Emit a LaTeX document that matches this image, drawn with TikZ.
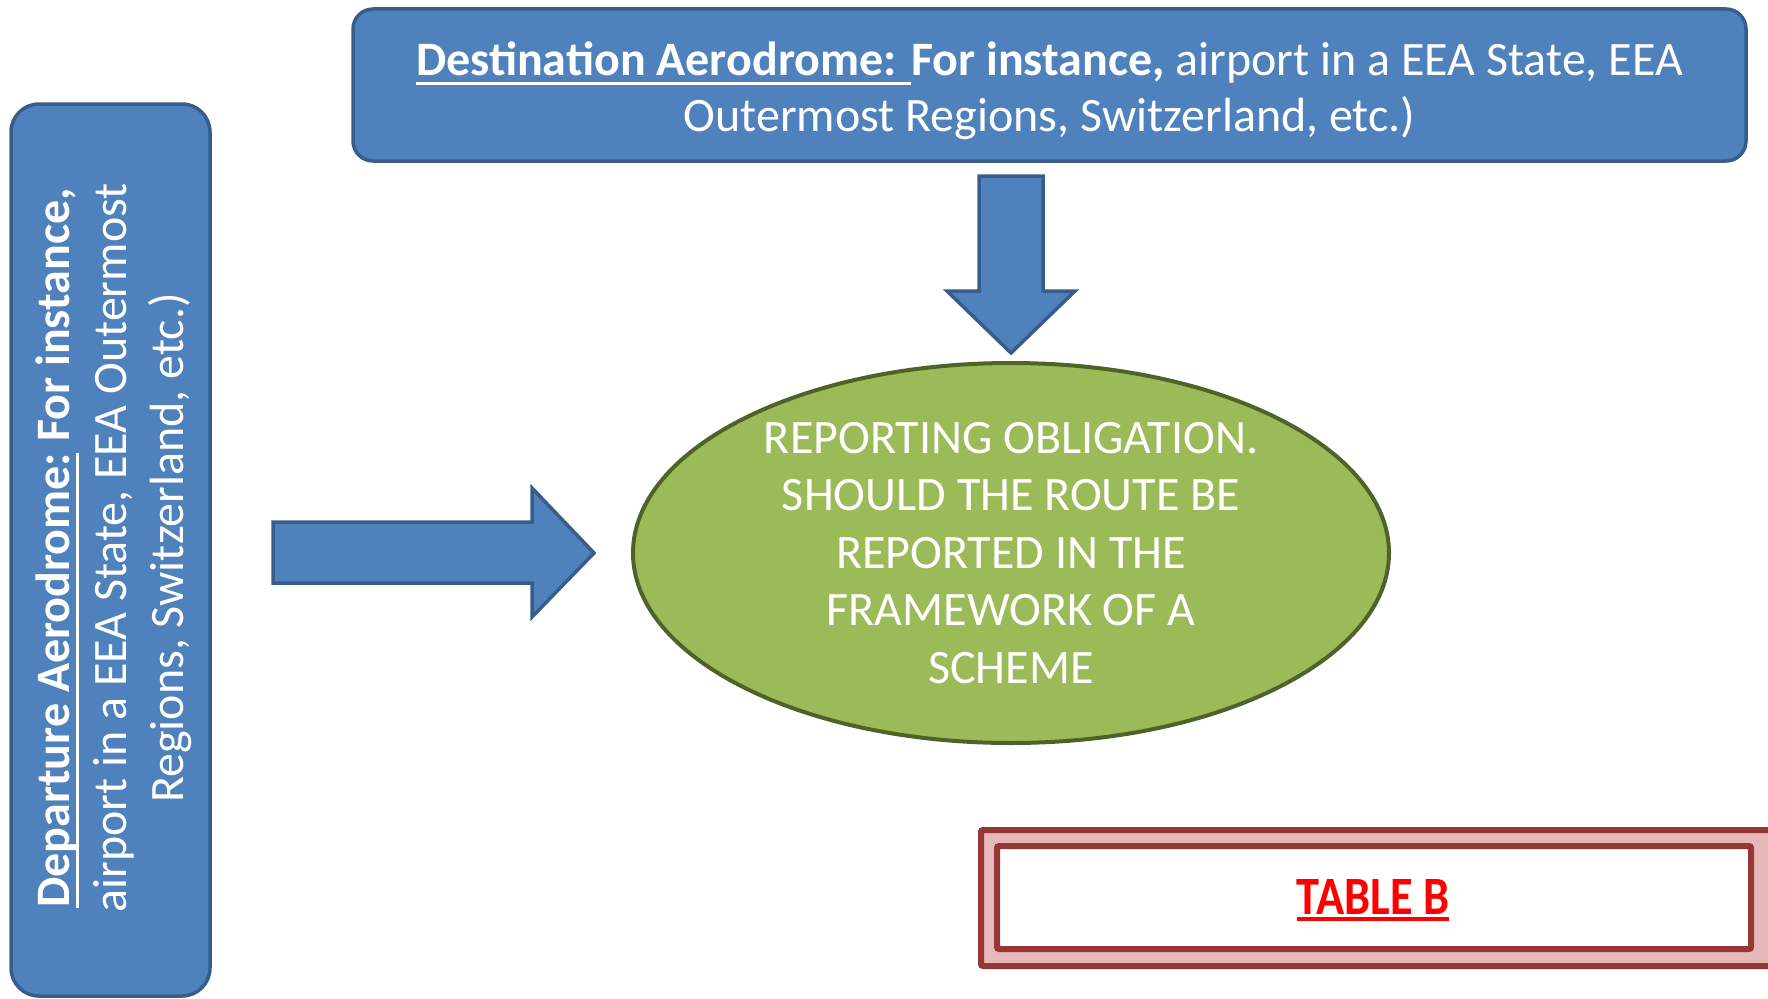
\documentclass[tikz,border=0pt]{standalone}
\usepackage{fontspec}
\setmainfont{Carlito}
\usetikzlibrary{shapes.geometric}
\definecolor{bluefill}{HTML}{4F81BD}
\definecolor{blueborder}{HTML}{385D8A}
\definecolor{greenfill}{HTML}{9BBB59}
\definecolor{greenborder}{HTML}{4F6228}
\definecolor{redborder}{HTML}{953735}
\definecolor{pinkfill}{HTML}{E6B9B8}
\newsavebox{\myulbox}
\newcommand{\myul}[3][9pt]{\sbox{\myulbox}{#3}\rlap{\usebox{\myulbox}}\rule[-#1]{\wd\myulbox}{#2}}
\tikzset{
  bluebox/.style={draw=blueborder, fill=bluefill, line width=3.5pt, rounded corners=20pt,
    text=white, align=center, font=\fontsize{48}{56}\selectfont, inner sep=0pt},
  blockarrow/.style={draw=blueborder, fill=bluefill, line width=3.5pt, line join=miter},
  greenell/.style={ellipse, draw=greenborder, fill=greenfill, line width=4pt,
    text=white, align=center, font=\fontsize{48}{57.5}\selectfont, inner sep=0pt},
  tableouter/.style={draw=redborder, fill=pinkfill, line width=6pt, rounded corners=2pt, inner sep=0pt},
  tableinner/.style={draw=redborder, fill=white, line width=6pt, rounded corners=2pt, inner sep=0pt},
  tabletext/.style={text=red, font=\fontsize{54}{60}\selectfont\bfseries, inner sep=0pt}
}
\begin{document}
\begin{tikzpicture}[x=1pt,y=-1pt]
\useasboundingbox (0,0) rectangle (1768,998);
% top destination box
\node[bluebox, minimum width=1393pt, minimum height=152pt] (dest) at (1049.5,85) {};
\node[text=white, align=center, font=\fontsize{48}{56}\selectfont, inner sep=0pt] (desttext) at (1049.5,91)
  {\myul{2.5pt}{\textbf{Destination Aerodrome: }}\textbf{For instance,} airport in a EEA State, EEA\\
   Outermost Regions, Switzerland, etc.)};
% left departure box
\node[bluebox, rounded corners=28pt, minimum width=199pt, minimum height=892pt] (depbox) at (110.5,550) {};
\node[text=white, align=center, font=\fontsize{48}{57}\selectfont, rotate=90, inner sep=0pt] (dep) at (114,548)
  {\myul{2.5pt}{\textbf{Departure Aerodrome:}} \textbf{For instance,}\\
   airport in a EEA State, EEA Outermost\\
   Regions, Switzerland, etc.)};
% ellipse
\node[greenell, minimum width=756pt, minimum height=380pt] (rep) at (1011,553)
  {REPORTING OBLIGATION.\\SHOULD THE ROUTE BE\\REPORTED IN THE\\FRAMEWORK OF A\\SCHEME};
% block arrows
\draw[blockarrow] (273,522) -- (532,522) -- (532,488) -- (594,553) -- (532,617) -- (532,583) -- (273,583) -- cycle;
\draw[blockarrow] (979,176) -- (1043,176) -- (1043,291) -- (1075,291) -- (1011,353) -- (947,291) -- (979,291) -- cycle;
% table B
\node[tableouter, minimum width=791pt, minimum height=136pt] (tabout) at (1376.5,898) {};
\node[tableinner, minimum width=754pt, minimum height=103pt] (tabin) at (1374,897.5) {};
\node[tabletext] (tabB) at (1373,900) {\scalebox{0.86}[1]{\myul[6pt]{4pt}{TABLE B}}};
\end{tikzpicture}
\end{document}
